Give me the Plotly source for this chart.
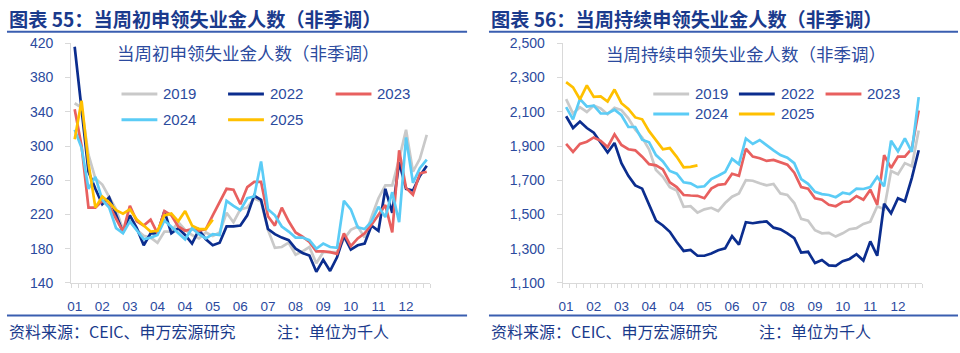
import plotly.graph_objects as go

# ---------------- data ----------------
weeks = list(range(1, 53))
tick_weeks = weeks[::4]
tick_labels = ["01", "02", "03", "04", "04", "05", "06", "07", "08", "09", "10", "11", "12"]
years = ["2019", "2022", "2023", "2024", "2025"]

# initial claims, NSA (thousand)
ic_2019 = [350, 345, 290, 262, 255, 240, 226, 202, 212, 202, 195, 193, 187, 200, 200, 211, 202, 196, 192, 199,
           195, 199, 222, 211, 226, 228, 239, 235, 202, 181, 182, 187, 173, 177, 182, 163, 176, 176, 176, 191,
           202, 206, 193, 217, 239, 254, 254, 285, 319, 270, 285, 313]
ic_2022 = [416, 340, 270, 250, 232, 240, 219, 199, 219, 204, 184, 198, 198, 224, 198, 204, 196, 186, 202, 191,
           184, 187, 206, 206, 207, 219, 242, 237, 203, 197, 193, 190, 180, 175, 172, 153, 167, 154, 170, 195,
           179, 184, 186, 207, 201, 250, 222, 281, 250, 248, 265, 277]
ic_2023 = [343, 300, 228, 228, 236, 230, 215, 200, 230, 212, 207, 214, 198, 224, 219, 206, 201, 203, 201, 203,
           219, 234, 250, 249, 232, 252, 258, 258, 218, 207, 228, 212, 199, 194, 188, 177, 177, 176, 174, 198,
           183, 192, 198, 208, 219, 231, 199, 295, 251, 243, 268, 270]
ic_2024 = [319, 298, 250, 264, 237, 228, 204, 198, 212, 202, 191, 193, 196, 213, 206, 199, 191, 204, 197, 192,
           197, 196, 236, 230, 225, 239, 241, 282, 226, 219, 206, 200, 193, 193, 190, 180, 186, 182, 181, 236,
           226, 205, 203, 212, 229, 217, 246, 211, 310, 257, 274, 284]
ic_2025 = [308, 353, 280, 228, 241, 234, 225, 221, 226, 214, 207, 200, 201, 219, 221, 212, 224, 207, 203, 203, 214]

# continuing claims, NSA (thousand)
cc_2019 = [2174, 2090, 2127, 2099, 2136, 2120, 2086, 2123, 2110, 2062, 1996, 1950, 1880, 1760, 1720, 1660, 1640,
           1545, 1548, 1511, 1530, 1539, 1520, 1567, 1604, 1623, 1701, 1697, 1682, 1670, 1678, 1623, 1614, 1567,
           1474, 1464, 1408, 1390, 1393, 1371, 1390, 1414, 1420, 1445, 1458, 1548, 1530, 1754, 1735, 1800, 1782, 1990]
cc_2022 = [2074, 2005, 2043, 2005, 1978, 1922, 1862, 1918, 1800, 1726, 1670, 1651, 1557, 1464, 1436, 1399, 1339,
           1287, 1293, 1259, 1259, 1272, 1291, 1302, 1374, 1324, 1455, 1449, 1455, 1459, 1423, 1413, 1390, 1362,
           1278, 1282, 1216, 1234, 1203, 1200, 1227, 1240, 1268, 1231, 1343, 1259, 1563, 1507, 1595, 1577, 1713, 1875]
cc_2023 = [1912, 1866, 1912, 1925, 1950, 1930, 1894, 1968, 1906, 1881, 1875, 1838, 1794, 1787, 1763, 1688, 1660,
           1614, 1611, 1609, 1595, 1651, 1673, 1678, 1738, 1726, 1884, 1838, 1829, 1813, 1819, 1806, 1791, 1744,
           1660, 1651, 1595, 1586, 1557, 1548, 1573, 1576, 1608, 1586, 1645, 1557, 1847, 1772, 1838, 1838, 1884, 2108]
cc_2024 = [2127, 2056, 2174, 2131, 2136, 2090, 2090, 2112, 2080, 2011, 2011, 1937, 1922, 1847, 1810, 1754, 1738,
           1688, 1682, 1660, 1665, 1707, 1726, 1748, 1825, 1794, 1944, 1912, 1935, 1903, 1875, 1847, 1832, 1800,
           1707, 1679, 1632, 1619, 1614, 1601, 1627, 1619, 1651, 1649, 1660, 1720, 1664, 1931, 1869, 1944, 1866, 2186]
cc_2025 = [2273, 2243, 2173, 2254, 2187, 2190, 2160, 2230, 2150, 2117, 2067, 2056, 1987, 1937, 1881, 1888, 1837,
           1776, 1778, 1787]

left_series = [ic_2019, ic_2022, ic_2023, ic_2024, ic_2025]
right_series = [cc_2019, cc_2022, cc_2023, cc_2024, cc_2025]

# ---------------- style ----------------
W, H = 960, 353
colors = {"2019": "#C9C9C9", "2022": "#0B2D8E", "2023": "#E8605F", "2024": "#5BCCF6", "2025": "#FFC000"}
TXT = "#2B4A9E"
DARK = "#1A3A8C"
RULE = "#3A5EB0"
AXIS = "#D9D9D9"
CJK = "Noto Sans CJK SC"
LAT = "Liberation Sans"


def px(x):
    return x / W


def py(y):
    return 1 - y / H


fig = go.Figure()

for yr, vals in zip(years, left_series):
    fig.add_trace(go.Scatter(x=weeks[:len(vals)], y=vals, mode="lines", name=yr,
                             line=dict(color=colors[yr], width=2.7), xaxis="x", yaxis="y",
                             showlegend=False, hoverinfo="skip"))
for yr, vals in zip(years, right_series):
    fig.add_trace(go.Scatter(x=weeks[:len(vals)], y=vals, mode="lines", name=yr,
                             line=dict(color=colors[yr], width=2.7), xaxis="x2", yaxis="y2",
                             showlegend=False, hoverinfo="skip"))

y_dom = [py(288), py(37)]


def xaxis_cfg(x0, x1, anchor):
    return dict(domain=[px(x0), px(x1)], anchor=anchor, range=[0.5, 52.5],
                tickmode="array", tickvals=tick_weeks, ticktext=tick_labels,
                ticks="", showgrid=False, zeroline=False,
                showline=True, linecolor=AXIS, linewidth=1.2,
                tickfont=dict(family=LAT, size=13.5, color=TXT),
                ticklabelstandoff=11,
                minor=dict(ticks="outside", ticklen=4, tickcolor=AXIS, tickwidth=1.2,
                           tickmode="linear", tick0=0.5, dtick=1, showgrid=False))


def yaxis_cfg(rng, dt, anchor, fmt=None):
    d = dict(domain=y_dom, anchor=anchor, range=rng, dtick=dt, tick0=rng[0],
             showgrid=False, zeroline=False, showline=True, linecolor=AXIS, linewidth=1.2,
             ticks="outside", ticklen=5, tickcolor=AXIS, tickwidth=1.2,
             tickfont=dict(family=LAT, size=14, color=TXT), ticklabelstandoff=9)
    if fmt:
        d["tickformat"] = fmt
    return d


annotations = []
shapes = []

# headers
for x0, x1, title in [(3, 465, "图表 55：当周初申领失业金人数（非季调）"),
                      (487, 958, "图表 56：当周持续申领失业金人数（非季调）")]:
    annotations.append(dict(text="<b>" + title + "</b>", x=px(x0), y=py(12), xref="paper", yref="paper",
                            xanchor="left", yanchor="middle", showarrow=False,
                            font=dict(family=CJK, size=19.2, color=DARK)))
    shapes.append(dict(type="line", xref="paper", yref="paper", x0=px(x0), x1=px(x1), y0=py(25), y1=py(25),
                       line=dict(color=RULE, width=2)))
    shapes.append(dict(type="line", xref="paper", yref="paper", x0=px(x0), x1=px(x1), y0=py(322), y1=py(322),
                       line=dict(color=RULE, width=2)))
    annotations.append(dict(text="资料来源：CEIC、申万宏源研究", x=px(x0), y=py(338), xref="paper", yref="paper",
                            xanchor="left", yanchor="middle", showarrow=False,
                            font=dict(family=CJK, size=16, color=DARK)))
    annotations.append(dict(text="注：单位为千人", x=px(x0 + 269), y=py(338), xref="paper", yref="paper",
                            xanchor="left", yanchor="middle", showarrow=False,
                            font=dict(family=CJK, size=16, color=DARK)))

# inner titles
for cx, cy, t in [(246, 47, "当周初申领失业金人数（非季调）"), (745, 48, "当周持续申领失业金人数（非季调）")]:
    annotations.append(dict(text=t, x=px(cx), y=py(cy), xref="paper", yref="paper",
                            xanchor="center", yanchor="middle", showarrow=False,
                            font=dict(family=CJK, size=17.5, color=TXT)))

# legends (drawn as line samples + text)
legend_slots = {
    "left": [(118, 90), (225, 90), (333, 90), (118, 117), (225, 117)],
    "right": [(652, 90), (738, 90), (825, 90), (652, 111), (738, 111)],
}
for side in ["left", "right"]:
    for yr, (lx, ly) in zip(years, legend_slots[side]):
        shapes.append(dict(type="line", xref="paper", yref="paper", x0=px(lx), x1=px(lx + 36),
                           y0=py(ly), y1=py(ly), line=dict(color=colors[yr], width=3)))
        annotations.append(dict(text=yr, x=px(lx + 40), y=py(ly), xref="paper", yref="paper",
                                xanchor="left", yanchor="middle", showarrow=False,
                                font=dict(family=LAT, size=15, color=TXT)))

fig.update_layout(
    width=W, height=H, margin=dict(l=0, r=0, t=0, b=0),
    paper_bgcolor="white", plot_bgcolor="white",
    xaxis=xaxis_cfg(67.5, 428, "y"),
    yaxis=yaxis_cfg([140, 420], 40, "x"),
    xaxis2=xaxis_cfg(561, 922, "y2"),
    yaxis2=yaxis_cfg([1100, 2500], 200, "x2", fmt=","),
    annotations=annotations, shapes=shapes, showlegend=False,
)

fig.write_html("out.html")
